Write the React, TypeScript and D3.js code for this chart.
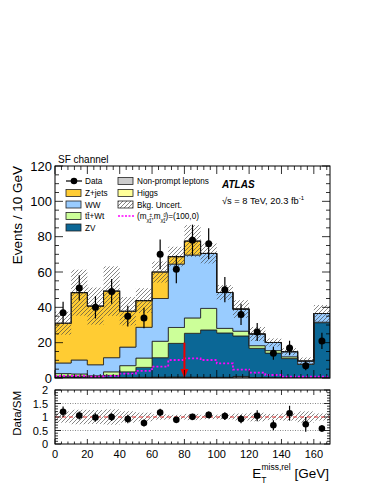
import React from 'react';
import * as d3 from 'd3';

const W = 374;
const H = 484;
const FONT = '"Liberation Sans", Arial, Helvetica, sans-serif';

// bins (lower edges, GeV) and width
const binLow = [0, 10, 20, 30, 40, 50, 60, 70, 80, 90, 100, 110, 120, 130, 140, 150, 160];
const binWidth = 10;

// observed events and their errors
const dataVals = [37, 51, 40, 49, 35, 34, 70, 61.5, 78, 76, 50, 36, 26, 14, 17, 7, 21];
const dataErr = [6.1, 7.1, 6.3, 7, 5.9, 5.8, 8.4, 7.8, 8.8, 8.7, 7.1, 6, 5.1, 3.7, 4.1, 2.6, 4.6];

// background components (stacked bottom -> top)
const nonPrompt = [0.2, 0.2, 0.1, 0.2, 0.2, 0.3, 0.3, 0.4, 0.3, 0.2, 0.3, 0.8, 0.2, 0.1, 0.1, 0.1, 0.1];
const higgs = [0.1, 0.1, 0.1, 0.1, 0.1, 0.1, 0.2, 0.2, 0.2, 0.2, 0.1, 0.1, 0.1, 0.1, 0.1, 0.1, 0.1];
const zv = [0.7, 0.7, 0.6, 1.2, 3.2, 5.6, 11, 19, 24.8, 26.8, 25.1, 22.9, 16.5, 13.9, 10.8, 7.5, 31.1];
const ttbar = [1.5, 1.3, 0.5, 2, 3.5, 5.3, 9.3, 9, 8.7, 12.2, 2.6, 2.7, 1.5, 1.4, 1, 0.2, 0.3];
const ww = [6, 7.9, 6.2, 8, 10.5, 17.4, 24.2, 35.9, 35.6, 31.1, 20.3, 12.5, 6.6, 4.6, 2.9, 1.7, 4.9];
const zjets = [22.5, 38.1, 33.2, 37.7, 20.3, 15.1, 15, 4.2, 7.9, 0, 0, 0, 0, 0, 0, 0, 0];

// absolute background uncertainty per bin
const bkgUnc = [6.5, 13, 10.5, 14, 8, 7, 6, 5.6, 9, 5.7, 4.2, 5, 4, 2.3, 2, 2, 4.8];

// signal (m chargino, m neutralino) = (100, 0), not stacked
const signal = [1.2, 1.2, 0.8, 1.2, 2.5, 4, 6.4, 10.2, 11.1, 10.2, 8.3, 4.7, 3, 1.7, 0.8, 0.8, 0.8];

// cut arrow
const cutValue = 80;
const cutTop = 20;

const yTicksMain = [0, 20, 40, 60, 80, 100, 120];
const yTicksRatio = [0, 0.5, 1, 1.5, 2];
const xTicks = [0, 20, 40, 60, 80, 100, 120, 140, 160];

const layers = [
  { key: 'np', values: nonPrompt, color: '#cccccc' },
  { key: 'higgs', values: higgs, color: '#ffff99' },
  { key: 'zv', values: zv, color: '#0b6796' },
  { key: 'tt', values: ttbar, color: '#ccff99' },
  { key: 'ww', values: ww, color: '#99ccff' },
  { key: 'zjets', values: zjets, color: '#ffcc33' },
];

const x = d3.scaleLinear().domain([0, 170]).range([55, 330]);
const y = d3.scaleLinear().domain([0, 120]).range([378, 166]);
const yr = d3.scaleLinear().domain([0, 2]).range([444, 390]);

const n = binLow.length;

function stepPoints(lo: number[], hi: number[]) {
  const pts = binLow.map((b, i) => ({ x: b, y0: lo[i], y1: hi[i] }));
  pts.push({ x: binLow[n - 1] + binWidth, y0: lo[n - 1], y1: hi[n - 1] });
  return pts;
}

function App() {
  const rows = binLow.map((_, i) => {
    const r: any = {};
    layers.forEach(l => (r[l.key] = l.values[i]));
    return r;
  });
  const stacked = d3.stack().keys(layers.map(l => l.key))(rows);
  const total = binLow.map((_, i) => stacked[stacked.length - 1][i][1]);

  const area = d3.area<any>()
    .x(d => x(d.x))
    .y0(d => y(d.y0))
    .y1(d => y(d.y1))
    .curve(d3.curveStepAfter);

  const line = d3.line<any>()
    .x(d => x(d.x))
    .y(d => y(d.y1))
    .curve(d3.curveStepAfter);

  const xMinor = d3.range(0, 171, 4);
  const yMinor = d3.range(0, 121, 5);
  const yrMinor = d3.range(0, 2.001, 0.1);

  const cx = (i: number) => x(binLow[i] + binWidth / 2);

  return (
    <svg width={W} height={H} style={{ position: 'absolute', left: 0, top: 0, background: '#fff' }}
      fontFamily={FONT}>
      <defs>
        <pattern id="hatch" patternUnits="userSpaceOnUse" width="4" height="4">
          <path d="M-1,1 l2,-2 M0,4 l4,-4 M3,5 l2,-2" stroke="#444" strokeWidth="0.65" />
        </pattern>
        <clipPath id="clipMain"><rect x={55} y={166} width={275} height={212} /></clipPath>
        <clipPath id="clipRatio"><rect x={55} y={390} width={275} height={54} /></clipPath>
      </defs>

      {/* stacked backgrounds */}
      <g clipPath="url(#clipMain)">
        {stacked.map((s, k) => (
          <path key={layers[k].key}
            d={area(stepPoints(s.map(d => d[0]), s.map(d => d[1]))) || ''}
            fill={layers[k].color} stroke="#222" strokeWidth={0.8} />
        ))}
        <path d={line(stepPoints(total, total)) || ''} fill="none" stroke="#111" strokeWidth={1.1} />
        {binLow.map((b, i) => (
          <rect key={'h' + i} x={x(b)} width={x(b + binWidth) - x(b)}
            y={y(total[i] + bkgUnc[i])} height={y(total[i] - bkgUnc[i]) - y(total[i] + bkgUnc[i])}
            fill="url(#hatch)" />
        ))}
        <path d={line(stepPoints(signal, signal)) || ''} fill="none" stroke="#ff00ff"
          strokeWidth={1.8} strokeDasharray="2,2" />
      </g>

      {/* cut arrow */}
      <line x1={x(cutValue)} x2={x(cutValue)} y1={y(cutTop)} y2={y(0) - 6} stroke="#ee0000" strokeWidth={2} />
      <path d={`M${x(cutValue) - 4},${y(0) - 9} L${x(cutValue) + 4},${y(0) - 9} L${x(cutValue)},${y(0)} Z`} fill="#ee0000" />

      {/* data */}
      {dataVals.map((d, i) => (
        <g key={'d' + i}>
          <line x1={cx(i)} x2={cx(i)} y1={y(d + dataErr[i])} y2={y(d - dataErr[i])} stroke="#000" strokeWidth={1.2} />
          <circle cx={cx(i)} cy={y(d)} r={3.5} fill="#000" />
        </g>
      ))}

      {/* main frame and ticks */}
      <rect x={55} y={166} width={275} height={212} fill="none" stroke="#000" strokeWidth={1} />
      {xMinor.map(v => {
        const len = v % 20 === 0 ? 8 : 4;
        return (
          <g key={'xm' + v} stroke="#000" strokeWidth={0.8}>
            <line x1={x(v)} x2={x(v)} y1={378} y2={378 - len} />
            <line x1={x(v)} x2={x(v)} y1={166} y2={166 + len} />
          </g>
        );
      })}
      {yMinor.map(v => {
        const len = v % 20 === 0 ? 8 : 4;
        return (
          <g key={'ym' + v} stroke="#000" strokeWidth={0.8}>
            <line x1={55} x2={55 + len} y1={y(v)} y2={y(v)} />
            <line x1={330} x2={330 - len} y1={y(v)} y2={y(v)} />
          </g>
        );
      })}
      {yTicksMain.map(v => (
        <text key={'yl' + v} x={52} y={y(v) + 4.5} fontSize={13} textAnchor="end">{v}</text>
      ))}
      <text transform="translate(22,166) rotate(-90)" fontSize={13.5} textAnchor="end">Events / 10 GeV</text>
      <text x={58} y={163} fontSize={10}>SF channel</text>

      {/* ATLAS label */}
      <text x={222} y={188} fontSize={10} fontWeight="bold" fontStyle="italic">ATLAS</text>
      <text x={222} y={204} fontSize={9.3}>√s = 8 TeV, 20.3 fb<tspan dy={-4} fontSize={6}>-1</tspan></text>

      {/* legend */}
      <g fontSize={8.2}>
        <line x1={66} x2={82} y1={181} y2={181} stroke="#000" strokeWidth={1.2} />
        <circle cx={74} cy={181} r={3.3} fill="#000" />
        <text x={85} y={184}>Data</text>
        {[
          { c: '#ffcc33', t: 'Z+jets', yy: 193 },
          { c: '#99ccff', t: 'WW', yy: 204.5 },
          { c: '#ccff99', t: 'tt̄+Wt', yy: 216 },
          { c: '#0b6796', t: 'ZV', yy: 227.5 },
        ].map(e => (
          <g key={e.t}>
            <rect x={66} y={e.yy - 3.5} width={15} height={7} fill={e.c} stroke="#222" strokeWidth={0.8} />
            <text x={85} y={e.yy + 3}>{e.t}</text>
          </g>
        ))}
        <rect x={118} y={177.5} width={15} height={7} fill="#cccccc" stroke="#222" strokeWidth={0.8} />
        <text x={137} y={184}>Non-prompt leptons</text>
        <rect x={118} y={189.5} width={15} height={7} fill="#ffff99" stroke="#222" strokeWidth={0.8} />
        <text x={137} y={196}>Higgs</text>
        <rect x={118} y={201} width={15} height={7} fill="url(#hatch)" stroke="#222" strokeWidth={0.8} />
        <text x={137} y={207.5}>Bkg. Uncert.</text>
        <line x1={118} x2={134} y1={216} y2={216} stroke="#ff00ff" strokeWidth={1.6} strokeDasharray="2,1.5" />
        <text x={137} y={219}>
          (m<tspan dy={2.5} fontSize={5.5}>χ̃</tspan><tspan dy={-5} fontSize={4.5}>±</tspan><tspan dx={-3} dy={6} fontSize={4.5}>1</tspan>
          <tspan dy={-3.5}>,m</tspan><tspan dy={2.5} fontSize={5.5}>χ̃</tspan><tspan dy={-5} fontSize={4.5}>0</tspan><tspan dx={-3} dy={6} fontSize={4.5}>1</tspan>
          <tspan dy={-3.5}>)=(100,0)</tspan>
        </text>
      </g>

      {/* ratio panel */}
      <g clipPath="url(#clipRatio)">
        {binLow.map((b, i) => (
          <rect key={'rb' + i} x={x(b)} width={x(b + binWidth) - x(b)}
            y={yr(1 + bkgUnc[i] / total[i])} height={yr(1 - bkgUnc[i] / total[i]) - yr(1 + bkgUnc[i] / total[i])}
            fill="url(#hatch)" />
        ))}
      </g>
      <line x1={55} x2={330} y1={yr(1)} y2={yr(1)} stroke="#e03030" strokeWidth={1} strokeDasharray="4,3" />
      <line x1={55} x2={330} y1={yr(0.5)} y2={yr(0.5)} stroke="#888" strokeWidth={1} strokeDasharray="1,1.5" />
      <line x1={55} x2={330} y1={yr(1.5)} y2={yr(1.5)} stroke="#888" strokeWidth={1} strokeDasharray="1,1.5" />
      {dataVals.map((d, i) => {
        const r = d / total[i];
        const e = dataErr[i] / total[i];
        return (
          <g key={'r' + i}>
            <line x1={cx(i)} x2={cx(i)} y1={yr(r + e)} y2={yr(r - e)} stroke="#000" strokeWidth={1.2} />
            <circle cx={cx(i)} cy={yr(r)} r={3.3} fill="#000" />
          </g>
        );
      })}
      <rect x={55} y={390} width={275} height={54} fill="none" stroke="#000" strokeWidth={1} />
      {xMinor.map(v => {
        const len = v % 20 === 0 ? 5 : 2.5;
        return (
          <g key={'xr' + v} stroke="#000" strokeWidth={0.8}>
            <line x1={x(v)} x2={x(v)} y1={444} y2={444 - len} />
            <line x1={x(v)} x2={x(v)} y1={390} y2={390 + len} />
          </g>
        );
      })}
      {yrMinor.map((v, k) => {
        const len = k % 5 === 0 ? 6 : 3;
        return (
          <g key={'yr' + k} stroke="#000" strokeWidth={0.8}>
            <line x1={55} x2={55 + len} y1={yr(v)} y2={yr(v)} />
            <line x1={330} x2={330 - len} y1={yr(v)} y2={yr(v)} />
          </g>
        );
      })}
      {yTicksRatio.map(v => (
        <text key={'yrl' + v} x={48} y={yr(v) + 4} fontSize={11} textAnchor="end">{v}</text>
      ))}
      <text transform="translate(21,391) rotate(-90)" fontSize={11.5} textAnchor="end">Data/SM</text>
      {xTicks.map(v => (
        <text key={'xl' + v} x={x(v)} y={458} fontSize={11} textAnchor="middle">{v}</text>
      ))}
      <text x={329} y={478} fontSize={13.5} textAnchor="end">
        E<tspan dy={5} fontSize={8.5}>T</tspan><tspan dx={-5} dy={-13} fontSize={8.5}>miss,rel</tspan>
        <tspan dy={8}> [GeV]</tspan>
      </text>
    </svg>
  );
}

export default App;
